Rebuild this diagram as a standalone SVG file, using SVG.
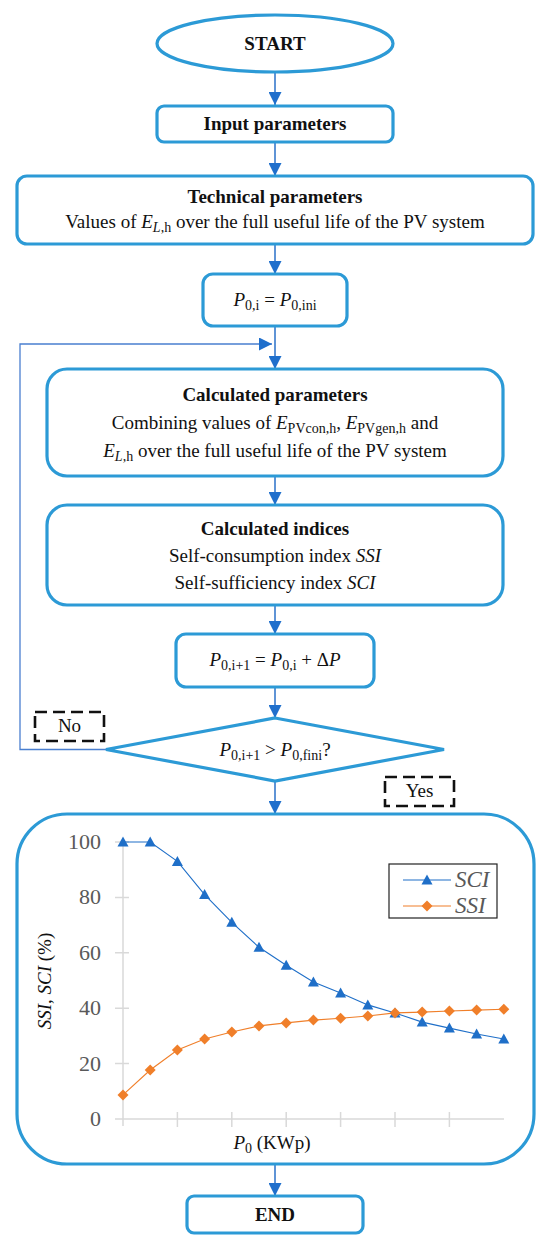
<svg xmlns="http://www.w3.org/2000/svg" width="550" height="1246" viewBox="0 0 550 1246">
<style>
.box{fill:#fff;stroke:#2C9AD6;stroke-width:3.2}
.t{font-family:"Liberation Serif","Times New Roman",serif;font-size:19px;fill:#111}
.b{font-weight:bold}
.i{font-style:italic}
.s{font-size:14px}
.con{fill:none;stroke:#2A70C8;stroke-width:1.5}
.loop{fill:none;stroke:#4A7FD0;stroke-width:1.3}
.dash{fill:none;stroke:#111;stroke-width:2.6;stroke-dasharray:12,6}
.ax{stroke:#D9D9D9;stroke-width:1.5;fill:none}
.lab{font-family:"Liberation Serif","Times New Roman",serif;font-size:22px;fill:#595959}
.leg{font-family:"Liberation Serif","Times New Roman",serif;font-size:23px;font-style:italic;fill:#595959}
.sci{fill:none;stroke:#1F6FC8;stroke-width:1.1}
.ssi{fill:none;stroke:#F07F2A;stroke-width:1.1}
</style>
<defs>
<marker id="ah" viewBox="0 0 13 13" refX="13" refY="6.5" markerWidth="13" markerHeight="13" markerUnits="userSpaceOnUse" orient="auto">
<path d="M0,0 L13,6.5 L0,13 Z" fill="#1F6FCC"/>
</marker>
<marker id="tri" viewBox="-6 -6 12 12" refX="0" refY="0" markerWidth="12" markerHeight="12" markerUnits="userSpaceOnUse">
<path d="M0,-5.5 L5.5,4.5 L-5.5,4.5 Z" fill="#1F6FC8"/>
</marker>
<marker id="dia" viewBox="-6 -6 12 12" refX="0" refY="0" markerWidth="12" markerHeight="12" markerUnits="userSpaceOnUse">
<path d="M0,-5.5 L5.5,0 L0,5.5 L-5.5,0 Z" fill="#F07F2A"/>
</marker>
</defs>
<rect width="550" height="1246" fill="#fff"/>

<g id="connectors">
<line class="con" x1="275" y1="72" x2="275" y2="105" marker-end="url(#ah)"/>
<line class="con" x1="275" y1="142" x2="275" y2="176" marker-end="url(#ah)"/>
<line class="con" x1="275" y1="244" x2="275" y2="274" marker-end="url(#ah)"/>
<line class="con" x1="275" y1="326" x2="275" y2="369" marker-end="url(#ah)"/>
<polyline class="loop" points="106,749.5 20,749.5 20,344 272,344" marker-end="url(#ah)"/>
<line class="con" x1="275" y1="476" x2="275" y2="505" marker-end="url(#ah)"/>
<line class="con" x1="275" y1="605" x2="275" y2="634" marker-end="url(#ah)"/>
<line class="con" x1="275" y1="687" x2="275" y2="718" marker-end="url(#ah)"/>
<line class="con" x1="275" y1="781" x2="275" y2="814" marker-end="url(#ah)"/>
<line class="con" x1="275" y1="1164" x2="275" y2="1196" marker-end="url(#ah)"/>
</g>

<g id="start">
<ellipse class="box" cx="275" cy="43.5" rx="118" ry="28.5"/>
<text class="t b" x="275" y="50" text-anchor="middle">START</text>
</g>

<g id="input">
<rect class="box" x="157" y="106" width="236" height="36" rx="7"/>
<text class="t b" x="275" y="130" text-anchor="middle">Input parameters</text>
</g>

<g id="technical">
<rect class="box" x="17" y="176" width="516" height="68" rx="10"/>
<text class="t b" x="275" y="203" text-anchor="middle">Technical parameters</text>
<text class="t" x="275" y="228" text-anchor="middle">Values of <tspan class="i">E</tspan><tspan class="s i" dy="4">L</tspan><tspan class="s">,h</tspan><tspan dy="-4"> over the full useful life of the PV system</tspan></text>
</g>

<g id="init">
<rect class="box" x="203" y="274" width="144" height="52" rx="10"/>
<text class="t" x="275" y="306" text-anchor="middle"><tspan class="i">P</tspan><tspan class="s" dy="4">0,i</tspan><tspan dy="-4"> = </tspan><tspan class="i">P</tspan><tspan class="s" dy="4">0,ini</tspan></text>
</g>

<g id="calcparams">
<rect class="box" x="47" y="369" width="456" height="107" rx="20"/>
<text class="t b" x="275" y="401" text-anchor="middle">Calculated parameters</text>
<text class="t" x="275" y="429" text-anchor="middle">Combining values of <tspan class="i">E</tspan><tspan class="s" dy="4">PVcon,h</tspan><tspan dy="-4">, </tspan><tspan class="i">E</tspan><tspan class="s" dy="4">PVgen,h</tspan><tspan dy="-4"> and</tspan></text>
<text class="t" x="275" y="457" text-anchor="middle"><tspan class="i">E</tspan><tspan class="s i" dy="4">L</tspan><tspan class="s">,h</tspan><tspan dy="-4"> over the full useful life of the PV system</tspan></text>
</g>

<g id="calcindices">
<rect class="box" x="47" y="505" width="456" height="100" rx="20"/>
<text class="t b" x="275" y="535" text-anchor="middle">Calculated indices</text>
<text class="t" x="275" y="562" text-anchor="middle">Self-consumption index <tspan class="i">SSI</tspan></text>
<text class="t" x="275" y="589" text-anchor="middle">Self-sufficiency index <tspan class="i">SCI</tspan></text>
</g>

<g id="increment">
<rect class="box" x="176" y="634" width="198" height="53" rx="10"/>
<text class="t" x="275" y="666" text-anchor="middle"><tspan class="i">P</tspan><tspan class="s" dy="4">0,i+1</tspan><tspan dy="-4"> = </tspan><tspan class="i">P</tspan><tspan class="s" dy="4">0,i</tspan><tspan dy="-4"> + Δ</tspan><tspan class="i">P</tspan></text>
</g>

<g id="decision">
<polygon class="box" points="275,718 444,749.5 275,781 106,749.5" stroke-width="3.6"/>
<text class="t" x="275" y="756" text-anchor="middle"><tspan class="i">P</tspan><tspan class="s" dy="4">0,i+1</tspan><tspan dy="-4"> &gt; </tspan><tspan class="i">P</tspan><tspan class="s" dy="4">0,fini</tspan><tspan dy="-4">?</tspan></text>
</g>

<g id="label-no">
<rect class="dash" x="35" y="712" width="69" height="29"/>
<text class="t" x="69.5" y="732" text-anchor="middle">No</text>
</g>

<g id="label-yes">
<rect class="dash" x="385" y="777" width="69" height="29"/>
<text class="t" x="419.5" y="797" text-anchor="middle">Yes</text>
</g>

<g id="chart">
<rect class="box" x="17" y="814" width="517" height="350" rx="50"/>
<line class="ax" x1="123" y1="842" x2="123" y2="1126"/>
<line class="ax" x1="115" y1="1119" x2="504" y2="1119"/>
<path class="ax" d="M115,1063.6H129M115,1008.2H129M115,952.8H129M115,897.4H129M115,842H129"/>
<path class="ax" d="M177.4,1112V1127M231.8,1112V1127M286.2,1112V1127M340.6,1112V1127M395,1112V1127M449.4,1112V1127"/>
<text class="lab" x="101" y="1126" text-anchor="end">0</text>
<text class="lab" x="101" y="1071" text-anchor="end">20</text>
<text class="lab" x="101" y="1015" text-anchor="end">40</text>
<text class="lab" x="101" y="960" text-anchor="end">60</text>
<text class="lab" x="101" y="904" text-anchor="end">80</text>
<text class="lab" x="101" y="849" text-anchor="end">100</text>
<text class="t" x="0" y="0" fill="#333" text-anchor="middle" transform="translate(51,981) rotate(-90)"><tspan class="i">SSI</tspan>, <tspan class="i">SCI</tspan> (%)</text>
<text class="t" x="272" y="1149" fill="#222" text-anchor="middle"><tspan class="i">P</tspan><tspan class="s" dy="4">0</tspan><tspan dy="-4"> (KWp)</tspan></text>
<polyline class="sci" marker-start="url(#tri)" marker-mid="url(#tri)" marker-end="url(#tri)" points="123,842 150.2,842 177.4,861.4 204.6,894.6 231.8,922.3 259,947.3 286.2,965.3 313.4,981.9 340.6,993 367.8,1004.9 395,1012.9 422.2,1022.1 449.4,1028.1 476.6,1034 503.8,1039"/>
<polyline class="ssi" marker-start="url(#dia)" marker-mid="url(#dia)" marker-end="url(#dia)" points="123,1094.9 150.2,1070 177.4,1050 204.6,1039 231.8,1032 259,1025.9 286.2,1022.9 313.4,1020.1 340.6,1018.2 367.8,1016 395,1012.9 422.2,1012.1 449.4,1011 476.6,1010.1 503.8,1009.3"/>
<g id="legend">
<rect x="389" y="864" width="108" height="54" fill="#fff" stroke="#222" stroke-width="1.2"/>
<polyline class="sci" points="403,880 427,880 451,880" marker-mid="url(#tri)"/>
<text class="leg" x="455" y="887">SCI</text>
<polyline class="ssi" points="403,906 427,906 451,906" marker-mid="url(#dia)"/>
<text class="leg" x="455" y="913">SSI</text>
</g>
</g>

<g id="end">
<rect class="box" x="187" y="1196" width="176" height="37" rx="7"/>
<text class="t b" x="275" y="1221" text-anchor="middle">END</text>
</g>
</svg>
